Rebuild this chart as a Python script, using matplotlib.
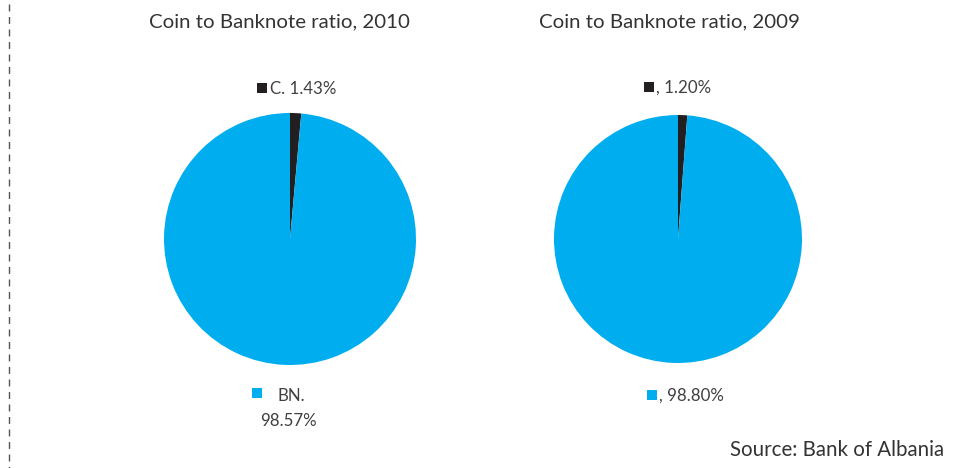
import matplotlib
matplotlib.use("Agg")
import matplotlib.pyplot as plt
from matplotlib.patches import Rectangle
from matplotlib.lines import Line2D

plt.rcParams['font.family'] = ['Lato', 'DejaVu Sans']

titles = ["Coin to Banknote ratio, 2010", "Coin to Banknote ratio, 2009"]
categories = ["Coins", "Banknotes"]
values_2010 = [1.43, 98.57]
values_2009 = [1.20, 98.80]
labels_2010 = ["C. 1.43%", "BN.\n98.57%"]
labels_2009 = [", 1.20%", ", 98.80%"]
colors = ["#231F20", "#00AEEF"]
source = "Source: Bank of Albania"

W, H = 954, 468
fig = plt.figure(figsize=(W/100, H/100), dpi=100)

def px_axes(cx, cy, r):
    return fig.add_axes([(cx - r)/W, 1 - (cy + r)/H, 2*r/W, 2*r/H])

txtc = "#404040"

for (cx, cy, r), vals in [((290, 239, 126), values_2010), ((678, 239, 124), values_2009)]:
    ax = px_axes(cx, cy, r)
    ax.pie(vals, colors=colors, startangle=90, counterclock=False,
           wedgeprops=dict(linewidth=0))
    ax.set_xlim(-1, 1); ax.set_ylim(-1, 1)
    ax.set_aspect('equal'); ax.axis('off')

def fx(x): return x / W
def fy(y): return 1 - y / H

# titles
fig.text(fx(279), fy(22), titles[0], ha='center', va='center', fontsize=14.7, color="#333333")
fig.text(fx(669), fy(22), titles[1], ha='center', va='center', fontsize=14.7, color="#333333")

def square(x, y, c):
    fig.patches.append(Rectangle((fx(x), fy(y + 10)), 10/W, 10/H, transform=fig.transFigure,
                                 facecolor=c, edgecolor='none'))

fs = 12.2
square(257, 83, colors[0])
fig.text(fx(270), fy(89), labels_2010[0], ha='left', va='center', fontsize=fs, color=txtc)
square(252, 388, colors[1])
fig.text(fx(278), fy(396), labels_2010[1].split("\n")[0], ha='left', va='center', fontsize=fs, color=txtc)
fig.text(fx(288), fy(421), labels_2010[1].split("\n")[1], ha='center', va='center', fontsize=fs, color=txtc)

square(644, 82, colors[0])
fig.text(fx(656), fy(88), labels_2009[0], ha='left', va='center', fontsize=fs, color=txtc)
square(647, 390, colors[1])
fig.text(fx(659), fy(396), labels_2009[1], ha='left', va='center', fontsize=fs, color=txtc)

fig.text(fx(944), fy(450), source, ha='right', va='center', fontsize=14.8, color="#333333")

fig.lines.append(Line2D([fx(9.5), fx(9.5)], [fy(4), fy(468)], transform=fig.transFigure,
                        color="#555555", linewidth=1, linestyle=(0, (5, 4))))

fig.savefig("out.png", dpi=100)
